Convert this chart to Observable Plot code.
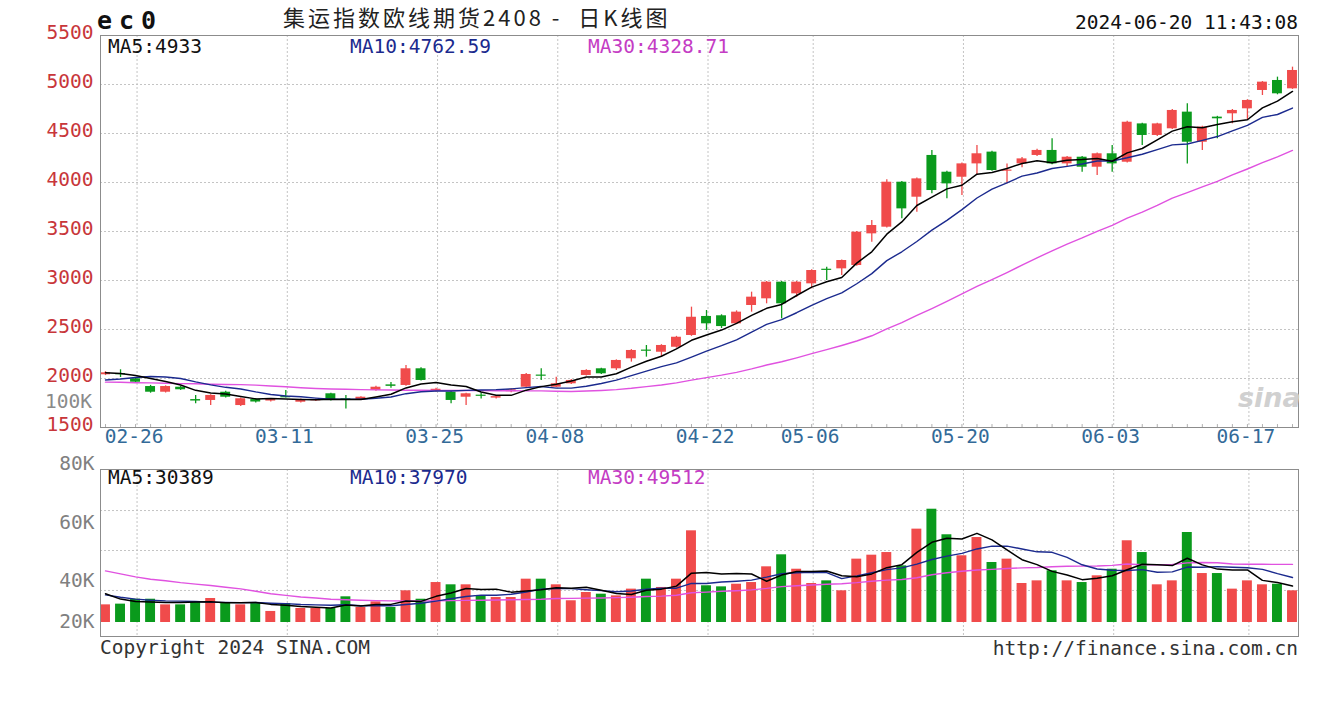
<!DOCTYPE html>
<html><head><meta charset="utf-8">
<script src="https://cdn.jsdelivr.net/npm/d3@7"></script>
<script src="https://cdn.jsdelivr.net/npm/@observablehq/plot@0.6"></script>
<style>
body{margin:0;background:#fff;}
#wrap{position:relative;width:1320px;height:720px;background:#fff;overflow:hidden;font-family:"DejaVu Sans Mono",monospace;}
#wrap svg{position:absolute;left:0;overflow:visible;}
.t{position:absolute;white-space:pre;line-height:1;font-size:19.5px;}
</style></head><body><div id="wrap"></div>
<script>
// ---- data ----
const dates = ["02-22","02-23","02-26","02-27","02-28","02-29","03-01","03-04","03-05","03-06","03-07","03-08",
"03-11","03-12","03-13","03-14","03-15","03-18","03-19","03-20","03-21","03-22","03-25","03-26","03-27","03-28","03-29",
"04-01","04-02","04-03","04-08","04-09","04-10","04-11","04-12","04-15","04-16","04-17","04-18","04-19",
"04-22","04-23","04-24","04-25","04-26","04-29","04-30","05-06","05-07","05-08","05-09","05-10",
"05-13","05-14","05-15","05-16","05-17","05-20","05-21","05-22","05-23","05-24","05-27","05-28","05-29","05-30","05-31",
"06-03","06-04","06-05","06-06","06-07","06-11","06-12","06-13","06-14","06-17","06-18","06-19","06-20"];
const opens = [2038,2050,1997,1918,1860,1911,1785,1776,1860,1724,1785,1770,1815,1758,1772,1844,1793,1783,1878,1935,
1929,2099,1870,1860,1809,1830,1800,1865,1911,2035,1911,1946,2031,2099,2099,2201,2290,2268,2319,2439,
2633,2640,2558,2745,2813,2983,2864,2966,3115,3119,3153,3476,3544,4003,3850,4276,4105,4054,4190,4310,
4115,4190,4276,4327,4190,4258,4156,4293,4207,4598,4480,4548,4718,4411,4667,4701,4752,4939,5041,4956];
const highs = [2070,2089,2005,1930,1925,1920,1827,1835,1870,1800,1795,1795,1878,1790,1790,1850,1827,1815,1920,1960,
2133,2110,1900,1870,1850,1850,1825,1895,2050,2099,2013,1990,2090,2105,2190,2295,2337,2345,2430,2728,
2694,2650,2690,2881,2990,2990,2990,3110,3136,3210,3500,3612,4027,4010,4045,4327,4115,4200,4378,4320,
4190,4255,4340,4446,4265,4265,4300,4378,4625,4605,4605,4745,4803,4575,4675,4745,4845,5030,5075,5177];
const lows = [2030,2010,1950,1850,1852,1878,1742,1724,1800,1715,1750,1760,1800,1750,1765,1770,1690,1775,1870,1900,
1920,1975,1860,1742,1724,1790,1790,1855,1905,1980,1905,1940,2025,2040,2082,2167,2218,2218,2310,2430,
2490,2510,2550,2677,2762,2609,2830,2915,3000,3051,3145,3391,3535,3629,3697,3884,3833,3867,4071,4115,
3986,4150,4265,4180,4160,4105,4071,4105,4200,4378,4470,4540,4190,4327,4446,4599,4633,4888,4895,4950];
const closes = [2058,2045,1962,1860,1918,1885,1770,1827,1809,1793,1760,1785,1810,1783,1780,1776,1780,1809,1911,1920,
2099,1980,1890,1776,1844,1820,1815,1885,2041,2025,1946,1980,2082,2048,2184,2286,2280,2337,2421,2625,
2558,2530,2677,2830,2983,2762,2983,3102,3105,3204,3493,3561,4003,3731,4037,3918,3986,4190,4293,4122,
4125,4241,4327,4190,4258,4156,4293,4190,4615,4480,4598,4735,4411,4565,4650,4735,4837,5024,4905,5143];
const ma5 = [2058,2050,2030,2000,1969,1934,1879,1852,1842,1817,1792,1795,1791,1786,1784,1787,1786,1786,1811,1839,
1904,1944,1960,1933,1918,1862,1829,1828,1881,1917,1942,1975,2015,2016,2048,2116,2176,2227,2302,2390,
2444,2494,2562,2644,2716,2756,2847,2932,2987,3031,3177,3293,3473,3598,3765,3850,3935,3972,4085,4102,
4143,4194,4222,4201,4228,4234,4245,4217,4302,4347,4435,4524,4568,4558,4592,4619,4640,4762,4830,4929];
const ma10 = [1985,1995,2010,2020,2015,2000,1965,1935,1910,1893,1863,1837,1822,1814,1800,1789,1790,1789,1799,1811,
1845,1865,1873,1872,1879,1883,1886,1894,1907,1918,1902,1902,1921,1949,1983,2029,2076,2121,2159,2219,
2280,2335,2395,2473,2553,2600,2671,2747,2816,2873,2967,3070,3203,3293,3398,3514,3614,3723,3842,3933,
3997,4065,4097,4143,4165,4189,4220,4220,4252,4288,4335,4384,4393,4430,4469,4527,4582,4665,4694,4760];
const ma30 = [1963,1961,1957,1955,1951,1948,1946,1942,1939,1937,1932,1924,1916,1906,1898,1893,1890,1886,1884,1882,
1880,1880,1879,1878,1877,1876,1875,1875,1874,1874,1870,1868,1872,1878,1887,1900,1917,1934,1955,1983,
2009,2034,2063,2098,2138,2171,2211,2254,2294,2337,2383,2436,2506,2571,2644,2714,2787,2864,2939,3009,
3081,3157,3231,3303,3372,3434,3501,3563,3636,3698,3766,3840,3897,3955,4011,4077,4138,4202,4262,4327];
// volume in thousands of lots
const volumes = [14.7,15.3,19.4,19.4,14.7,14.7,17.2,20.0,15.8,14.7,15.8,9.2,15.8,11.7,11.7,11.7,21.4,12.5,17.2,12.5,
26.4,19.4,33.3,31.4,31.4,22.2,20.8,20.8,36.1,36.1,31.4,18.1,25.0,23.6,22.2,27.8,36.1,29.2,36.1,76.4,
30.6,29.7,31.9,33.3,46.4,56.4,44.4,32.5,34.7,26.4,52.8,56.1,58.3,47.2,77.8,94.4,73.1,55.6,70.8,50.0,
52.8,32.5,34.7,43.1,34.7,33.3,38.9,44.4,68.1,58.3,31.4,34.7,75.0,40.8,40.8,27.8,34.7,31.4,31.9,26.4];
const vma5 = [24.0,19.5,17.5,17.0,16.7,16.7,17.1,17.2,16.5,16.5,16.7,15.1,14.3,13.4,12.8,12.0,14.5,13.8,14.9,15.1,
18.0,17.6,21.8,24.6,28.4,27.5,27.8,25.3,26.3,27.2,29.0,28.5,29.3,26.8,24.1,23.3,26.9,27.8,30.3,41.1,
41.7,40.4,40.9,40.4,34.4,39.5,42.5,42.6,42.9,38.9,38.2,40.5,45.7,48.2,58.4,66.8,70.2,69.6,74.3,68.8,
60.5,52.3,48.2,42.6,39.6,35.7,36.9,38.9,43.9,48.6,48.2,47.4,53.5,48.0,44.5,43.8,43.8,35.1,33.3,30.4];
const vma10 = [23.0,21.0,19.5,18.5,18.0,17.8,17.5,17.0,16.8,16.6,16.7,16.1,15.7,15.0,14.7,14.4,14.8,14.0,14.2,14.0,
15.0,16.0,17.8,19.8,21.7,22.8,22.7,23.5,25.4,27.8,28.3,28.2,27.3,26.6,25.6,26.2,27.7,28.6,28.6,32.6,
32.5,33.7,34.4,35.3,37.8,40.6,41.4,41.8,41.6,36.6,38.9,41.5,44.1,45.5,48.7,52.5,55.3,57.6,61.3,63.6,
63.6,61.3,58.9,58.5,54.2,48.1,44.6,43.5,43.3,44.1,41.9,42.2,46.2,46.0,46.6,46.0,45.6,44.3,40.7,37.5];
const vma30 = [43.0,40.5,38.0,36.0,34.8,33.2,32.0,30.8,29.4,28.0,26.0,24.0,22.6,21.3,20.4,19.4,18.9,18.5,18.2,18.0,
17.9,17.9,18.0,18.2,18.4,18.6,18.8,19.0,19.2,19.4,20.0,20.1,20.3,20.4,20.7,21.1,21.7,22.0,22.7,24.8,
25.3,26.0,26.5,27.2,28.4,29.9,30.6,31.3,31.9,32.3,33.2,34.4,35.3,35.8,37.3,39.8,41.5,42.7,43.8,44.3,
45.0,45.5,45.8,46.4,46.9,47.0,47.1,47.6,48.7,48.1,48.1,48.3,49.7,50.0,49.8,48.8,48.5,48.5,48.4,48.4];
const tickLabels = ["02-26","03-11","03-25","04-08","04-22","05-06","05-20","06-03","06-17"];
const priceTicks = [1500,2000,2500,3000,3500,4000,4500,5000,5500];
const priceGrid = [2000,2500,3000,3500,4000,4500,5000];
const volTickLabels = ["80K","60K","40K","20K"];
const volTickValues = [132.5,83.3,35,0.8];
const volGrid = [26.7,60,93.3];

(function () {
const UP = "#f04b4b", DOWN = "#0a9a1c";
const MA5C = "#000000", MA10C = "#1b2a8e", MA30C = "#e052e0";
const MONO = "DejaVu Sans Mono, monospace";
const rows = dates.map((d, j) => ({
  j, date: d, open: opens[j], high: highs[j], low: lows[j], close: closes[j],
  vol: volumes[j], ma5: ma5[j], ma10: ma10[j], ma30: ma30[j],
  vma5: vma5[j], vma10: vma10[j], vma30: vma30[j],
  color: closes[j] >= opens[j] ? UP : DOWN
}));
const ticks = tickLabels.map(l => ({label: l, pos: dates.indexOf(l) + 0.1}));
const xDomain = [-0.333, 79.4];
const HW = 0.33;
const gridStyle = {stroke: "#c4c4c4", strokeDasharray: "2,2", strokeWidth: 1};

const priceChart = Plot.plot({
  width: 1320, height: 460,
  marginLeft: 100, marginRight: 22, marginTop: 35, marginBottom: 33,
  x: {domain: xDomain, axis: null},
  y: {domain: [1500, 5500]},
  style: {background: "transparent", fontFamily: MONO, overflow: "visible"},
  marks: [
    Plot.ruleY(priceGrid, gridStyle),
    Plot.ruleX(ticks, {x: "pos", ...gridStyle}),
    Plot.ruleX(rows, {x: "j", y1: 1500, y2: 1530, stroke: "#b0b0b0"}),
    Plot.ruleX(rows, {x: "j", y1: "low", y2: "high", stroke: "color", strokeWidth: 1.3}),
    Plot.rect(rows, {x1: d => d.j - HW, x2: d => d.j + HW, y1: "open", y2: d => Math.abs(d.close - d.open) < 12 ? d.open + (d.close >= d.open ? 12 : -12) : d.close, fill: "color"}),
    Plot.line(rows, {x: "j", y: "ma30", stroke: MA30C, strokeWidth: 1.4}),
    Plot.line(rows, {x: "j", y: "ma10", stroke: MA10C, strokeWidth: 1.4}),
    Plot.line(rows, {x: "j", y: "ma5", stroke: MA5C, strokeWidth: 1.5}),
    Plot.frame({stroke: "#8c8c8c"}),
    Plot.axisY(priceTicks, {tickSize: 0, tickPadding: 7, tickFormat: d => String(d), color: "#c8363a", fontSize: 19.5, dy: -3, fontFamily: MONO}),
    Plot.text(ticks, {x: "pos", text: "label", frameAnchor: "bottom", dy: 15, dx: -3, fill: "#336a98", fontSize: 19.5, fontFamily: MONO})
  ]
});
priceChart.style.top = "0px";

const volTicks = volTickLabels.map((l, i) => ({label: l, v: volTickValues[i]}));
const volChart = Plot.plot({
  width: 1320, height: 200,
  marginLeft: 100, marginRight: 22, marginTop: 14, marginBottom: 19,
  x: {domain: xDomain, axis: null},
  y: {domain: [-11.67, 127.5], axis: null},
  style: {background: "transparent", fontFamily: MONO, overflow: "visible"},
  marks: [
    Plot.ruleY(volGrid, gridStyle),
    Plot.ruleX(ticks, {x: "pos", ...gridStyle}),
    Plot.rect(rows, {x1: d => d.j - HW, x2: d => d.j + HW, y1: 0, y2: "vol", fill: "color"}),
    Plot.line(rows, {x: "j", y: "vma30", stroke: MA30C, strokeWidth: 1.4}),
    Plot.line(rows, {x: "j", y: "vma10", stroke: MA10C, strokeWidth: 1.4}),
    Plot.line(rows, {x: "j", y: "vma5", stroke: MA5C, strokeWidth: 1.5}),
    Plot.frame({stroke: "#8c8c8c"}),
    Plot.text(volTicks, {y: "v", text: "label", frameAnchor: "left", textAnchor: "end", dx: -6, fill: "#808080", fontSize: 19.5, fontFamily: MONO})
  ]
});
volChart.style.top = "455px";

const wrap = document.getElementById("wrap");
wrap.appendChild(priceChart);
wrap.appendChild(volChart);

function addText(txt, css) {
  const s = document.createElement("div");
  s.className = "t";
  s.textContent = txt;
  Object.assign(s.style, css);
  wrap.appendChild(s);
}
addText("ec0", {left: "97px", top: "8px", fontSize: "25px", fontWeight: "bold", letterSpacing: "7px", color: "#111"});
addText("集运指数欧线期货2408 -  日K线图", {left: "283px", top: "5px", fontSize: "22px", letterSpacing: "3px", color: "#222", fontFamily: "'Noto Sans CJK SC', sans-serif"});
addText("2024-06-20 11:43:08", {right: "22px", top: "13px", color: "#111"});
addText("MA5:4933", {left: "108px", top: "37px", color: "#111"});
addText("MA10:4762.59", {left: "350px", top: "37px", color: MA10C});
addText("MA30:4328.71", {left: "588px", top: "37px", color: "#c43cc4"});
addText("100K", {left: "45px", top: "392px", color: "#8a8a8a"});
addText("MA5:30389", {left: "108px", top: "468px", color: "#111"});
addText("MA10:37970", {left: "350px", top: "468px", color: MA10C});
addText("MA30:49512", {left: "588px", top: "468px", color: "#c43cc4"});
addText("Copyright 2024 SINA.COM", {left: "100px", top: "638px", color: "#333"});
addText("http://finance.sina.com.cn", {right: "22px", top: "639px", color: "#333"});
addText("sina", {left: "1238px", top: "384px", fontSize: "27px", fontWeight: "bold", fontStyle: "italic", color: "#d0d0d0", fontFamily: "'DejaVu Sans', sans-serif"});
})();
</script>
</body></html>
